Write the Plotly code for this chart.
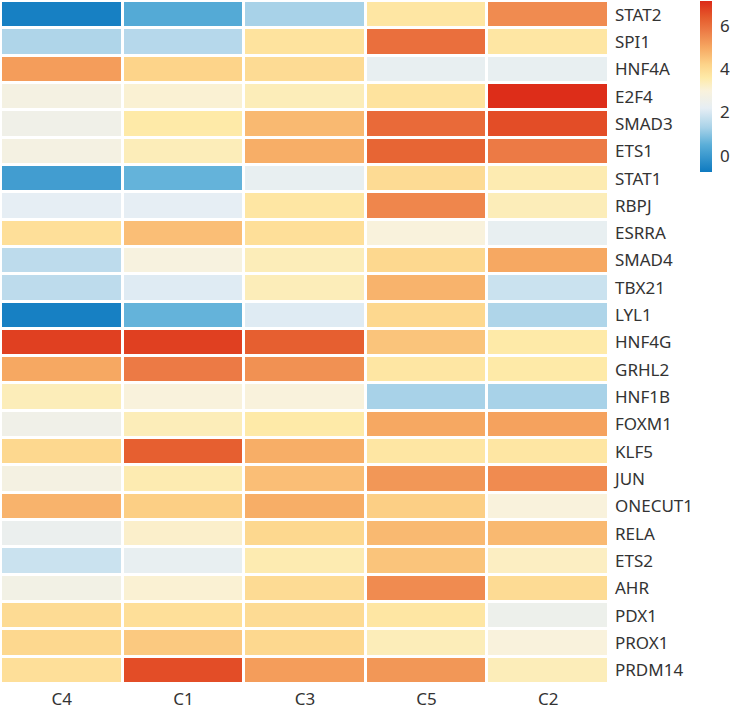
import plotly.graph_objects as go

clusters = ["C4", "C1", "C3", "C5", "C2"]
genes = ["STAT2", "SPI1", "HNF4A", "E2F4", "SMAD3", "ETS1", "STAT1", "RBPJ", "ESRRA",
         "SMAD4", "TBX21", "LYL1", "HNF4G", "GRHL2", "HNF1B", "FOXM1", "KLF5", "JUN",
         "ONECUT1", "RELA", "ETS2", "AHR", "PDX1", "PROX1", "PRDM14"]

# values per gene, columns in order C4, C1, C3, C5, C2
STAT2 = [-0.6, 0.4, 1.3, 3.7, 5.5]
SPI1 = [1.4, 1.5, 3.8, 6.0, 3.7]
HNF4A = [5.2, 4.2, 4.0, 2.3, 2.3]
E2F4 = [2.8, 3.1, 3.4, 3.8, 7.1]
SMAD3 = [2.6, 3.6, 4.7, 6.1, 6.6]
ETS1 = [2.8, 3.4, 4.9, 6.2, 5.8]
STAT1 = [0.1, 0.6, 2.3, 4.0, 3.5]
RBPJ = [2.2, 2.2, 3.7, 5.6, 3.4]
ESRRA = [3.9, 4.6, 3.9, 3.0, 2.3]
SMAD4 = [1.6, 2.9, 3.4, 4.1, 5.0]
TBX21 = [1.6, 2.1, 3.4, 4.8, 1.8]
LYL1 = [-0.6, 0.6, 2.1, 4.1, 1.4]
HNF4G = [6.8, 6.8, 6.3, 4.5, 3.6]
GRHL2 = [5.0, 5.8, 5.4, 3.7, 3.6]
HNF1B = [3.4, 3.0, 3.0, 1.3, 1.3]
FOXM1 = [2.6, 3.4, 3.6, 5.0, 5.1]
KLF5 = [4.1, 6.3, 4.9, 3.7, 3.7]
JUN = [2.8, 3.5, 4.6, 5.3, 5.5]
ONECUT1 = [4.8, 4.3, 4.9, 4.3, 3.0]
RELA = [2.4, 3.2, 4.1, 4.7, 4.7]
ETS2 = [1.8, 2.3, 3.5, 4.5, 3.3]
AHR = [2.7, 3.1, 4.0, 5.5, 4.0]
PDX1 = [4.0, 3.9, 4.0, 3.7, 2.5]
PROX1 = [4.1, 4.4, 4.1, 3.4, 3.0]
PRDM14 = [3.9, 6.6, 5.2, 5.3, 3.4]

z = [STAT2, SPI1, HNF4A, E2F4, SMAD3, ETS1, STAT1, RBPJ, ESRRA, SMAD4, TBX21, LYL1,
     HNF4G, GRHL2, HNF1B, FOXM1, KLF5, JUN, ONECUT1, RELA, ETS2, AHR, PDX1, PROX1, PRDM14]

zmin, zmax = -0.75, 7.15
anchors = [(-0.75, "#0e7ac0"), (0.5, "#5aaed8"), (1.3, "#a8d2e8"), (2.2, "#e6eef4"),
           (3.0, "#f9f2dc"), (3.6, "#feeaa8"), (4.2, "#fdd48a"), (5.0, "#f6a862"),
           (5.8, "#ec7a45"), (6.4, "#e55a2c"), (7.15, "#dc2a18")]
colorscale = [[(v - zmin) / (zmax - zmin), c] for v, c in anchors]

fig = go.Figure(go.Heatmap(
    z=z, x=clusters, y=genes, colorscale=colorscale, zmin=zmin, zmax=zmax,
    xgap=3, ygap=3,
    colorbar=dict(thickness=12, len=171, lenmode="pixels", x=1.147, xanchor="left",
                  y=1, yanchor="top", outlinewidth=0, tickvals=[0, 2, 4, 6],
                  ticks="outside", ticklen=5, tickcolor="rgba(0,0,0,0)",
                  tickfont=dict(size=17, color="#333"), xpad=0, ypad=0),
))
fig.update_layout(
    width=730, height=716, margin=dict(l=1, r=120, t=1, b=32),
    paper_bgcolor="white", plot_bgcolor="white",
    font=dict(family="Noto Sans", size=17, color="#333"),
    xaxis=dict(showgrid=False, zeroline=False, ticks="", tickfont=dict(size=17),
               ticklabelstandoff=3),
    yaxis=dict(side="right", autorange="reversed", showgrid=False, zeroline=False,
               ticks="", tickfont=dict(size=17), ticklabelstandoff=5),
)
fig.write_html("out.html", config={"displayModeBar": False},
               post_script="document.body.style.margin='0';")
